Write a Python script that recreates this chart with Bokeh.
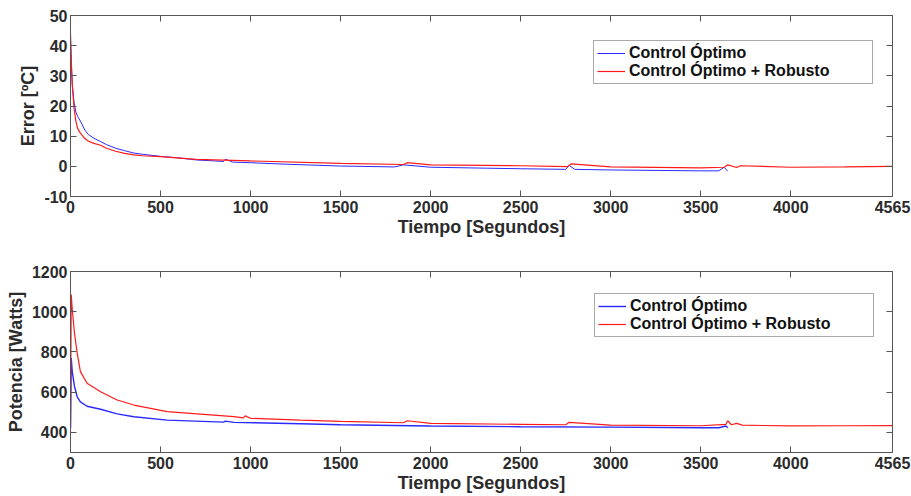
from bokeh.plotting import figure
from bokeh.layouts import column
from bokeh.models import (LinearAxis, FixedTicker, Legend, LegendItem, Range1d,
                          CustomJSTickFormatter)
from bokeh.embed import file_html
from bokeh.resources import INLINE

# ---- data ----
x_ticks = [0, 500, 1000, 1500, 2000, 2500, 3000, 3500, 4000, 4565]
err_ticks = [-10, 0, 10, 20, 30, 40, 50]
pot_ticks = [400, 600, 800, 1000, 1200]

err_opt_t = [0, 5, 10, 20, 30, 40, 55, 80, 100, 130, 167, 200, 250, 300, 352, 400, 500, 600, 700,
             800, 850, 860, 900, 1000, 1200, 1500, 1800, 1850, 2000, 2500, 2750, 2770, 2800, 3000,
             3500, 3600, 3630, 3650]
err_opt_v = [42, 33, 27, 21, 18, 16.5, 15, 12, 10.5, 9.3, 8.2, 7.2, 6, 5.2, 4.4, 4, 3.3, 2.8, 2.1,
             1.8, 1.6, 2.4, 1.4, 1.2, 0.7, 0.1, -0.2, 0.5, -0.3, -0.8, -1.0, 0.3, -1.0, -1.2,
             -1.5, -1.5, -0.3, -1.6]
err_rob_t = [0, 5, 10, 20, 30, 40, 55, 80, 100, 130, 167, 200, 250, 300, 352, 400, 500, 700, 1000,
             1500, 1850, 1870, 2000, 2500, 2760, 2780, 3000, 3500, 3630, 3650, 3700, 3720, 4000,
             4300, 4565]
err_rob_v = [44, 34, 27, 19, 15, 12.5, 11, 9.2, 8.3, 7.6, 7.0, 6.0, 5.0, 4.3, 3.8, 3.5, 3.2, 2.3,
             1.8, 1.0, 0.6, 1.2, 0.5, 0.2, -0.1, 0.8, -0.2, -0.5, -0.3, 0.5, -0.4, 0.2, -0.3,
             -0.2, 0.0]

pot_opt_t = [0, 4, 10, 22, 37, 55, 92, 167, 259, 352, 537, 850, 860, 907, 1278, 1500, 2000, 2500,
             3000, 3500, 3600, 3640, 3650]
pot_opt_v = [420, 770, 700, 630, 577, 552, 530, 515, 492, 478, 461, 451, 456, 450, 443, 438, 432,
             428, 426, 423, 423, 432, 423]
pot_rob_t = [0, 4, 10, 22, 37, 55, 92, 167, 259, 352, 537, 907, 960, 970, 1000, 1278, 1500, 1850,
             1870, 2000, 2500, 2750, 2770, 3000, 3500, 3640, 3650, 3670, 3700, 3730, 4000, 4300,
             4565]
pot_rob_v = [420, 1085, 1010, 894, 795, 702, 644, 602, 561, 536, 503, 478, 472, 482, 470, 461, 455,
             448, 458, 445, 440, 438, 450, 436, 433, 440, 458, 438, 445, 436, 432, 433, 434]

FONT = "Liberation Sans"
BLUE = "#2a2aff"
RED = "#ff1a1a"
AX = "#555555"
TXT = "#2b2b2b"


def make_fig(height, ylo, yhi, yticks, ylabel, t1, v1, t2, v2, top_border, bottom_border, lw1, loc):
    p = figure(width=911, height=height, output_backend="svg", toolbar_location=None,
               x_range=Range1d(0, 4565), y_range=Range1d(ylo, yhi),
               min_border_left=70, min_border_right=19, min_border_top=top_border,
               min_border_bottom=bottom_border)
    p.xgrid.visible = False
    p.ygrid.visible = False
    p.outline_line_color = AX
    p.outline_line_width = 1
    p.background_fill_color = "white"

    r1 = p.line(t1, v1, line_color=BLUE, line_width=lw1)
    r2 = p.line(t2, v2, line_color=RED, line_width=1.2)

    for ax in p.xaxis:
        ax.ticker = FixedTicker(ticks=x_ticks)
        ax.axis_label = "Tiempo [Segundos]"
    for ax in p.yaxis:
        ax.ticker = FixedTicker(ticks=yticks)
        ax.axis_label = ylabel
        ax.major_label_overrides = {t: str(t) for t in yticks}
    for ax in list(p.xaxis) + list(p.yaxis):
        ax.major_tick_in = 6
        ax.major_tick_out = 0
        ax.minor_tick_in = 0
        ax.minor_tick_out = 0
        ax.axis_line_color = AX
        ax.major_tick_line_color = AX
        ax.major_label_text_font = FONT
        ax.major_label_text_font_style = "bold"
        ax.major_label_text_font_size = "16px"
        ax.major_label_text_color = TXT
        ax.axis_label_text_font = FONT
        ax.axis_label_text_font_style = "bold"
        ax.axis_label_text_font_size = "18px"
        ax.axis_label_text_color = TXT
    p.xaxis.major_label_standoff = 4
    p.xaxis.axis_label_standoff = 1
    p.yaxis.major_label_standoff = 3
    p.yaxis.axis_label_standoff = 3

    # box ticks on top and right (MATLAB style)
    blank = CustomJSTickFormatter(code="return '';")
    top = LinearAxis(ticker=FixedTicker(ticks=x_ticks), formatter=blank,
                     major_tick_in=6, major_tick_out=0, minor_tick_in=0, minor_tick_out=0,
                     axis_line_color=AX, major_tick_line_color=AX, major_label_standoff=0)
    right = LinearAxis(ticker=FixedTicker(ticks=yticks), formatter=blank,
                       major_tick_in=6, major_tick_out=0, minor_tick_in=0, minor_tick_out=0,
                       axis_line_color=AX, major_tick_line_color=AX, major_label_standoff=0)
    p.add_layout(top, "above")
    p.add_layout(right, "right")

    legend = Legend(items=[LegendItem(label="Control Óptimo", renderers=[r1]),
                           LegendItem(label="Control Óptimo + Robusto", renderers=[r2])],
                    location=loc)
    legend.label_text_font = FONT
    legend.label_text_font_style = "bold"
    legend.label_text_font_size = "16px"
    legend.label_text_color = "#111111"
    legend.border_line_color = AX
    legend.border_line_width = 1
    legend.glyph_width = 28
    legend.glyph_height = 16
    legend.label_height = 16
    legend.label_width = 240
    legend.label_standoff = 4
    legend.spacing = 0
    legend.padding = 3
    legend.margin = 0
    legend.background_fill_alpha = 1.0
    p.add_layout(legend, "center")
    return p


p1 = make_fig(248, -10, 50, err_ticks, "Error [ºC]",
              err_opt_t, err_opt_v, err_rob_t, err_rob_v, 15, 52, 1.0, (523, 112))
p2 = make_fig(248, 300, 1200, pot_ticks, "Potencia [Watts]",
              pot_opt_t, pot_opt_v, pot_rob_t, pot_rob_v, 23, 44, 1.4, (524, 115))

layout = column(p1, p2, spacing=0)
open("out.html", "w").write(file_html(layout, INLINE))
